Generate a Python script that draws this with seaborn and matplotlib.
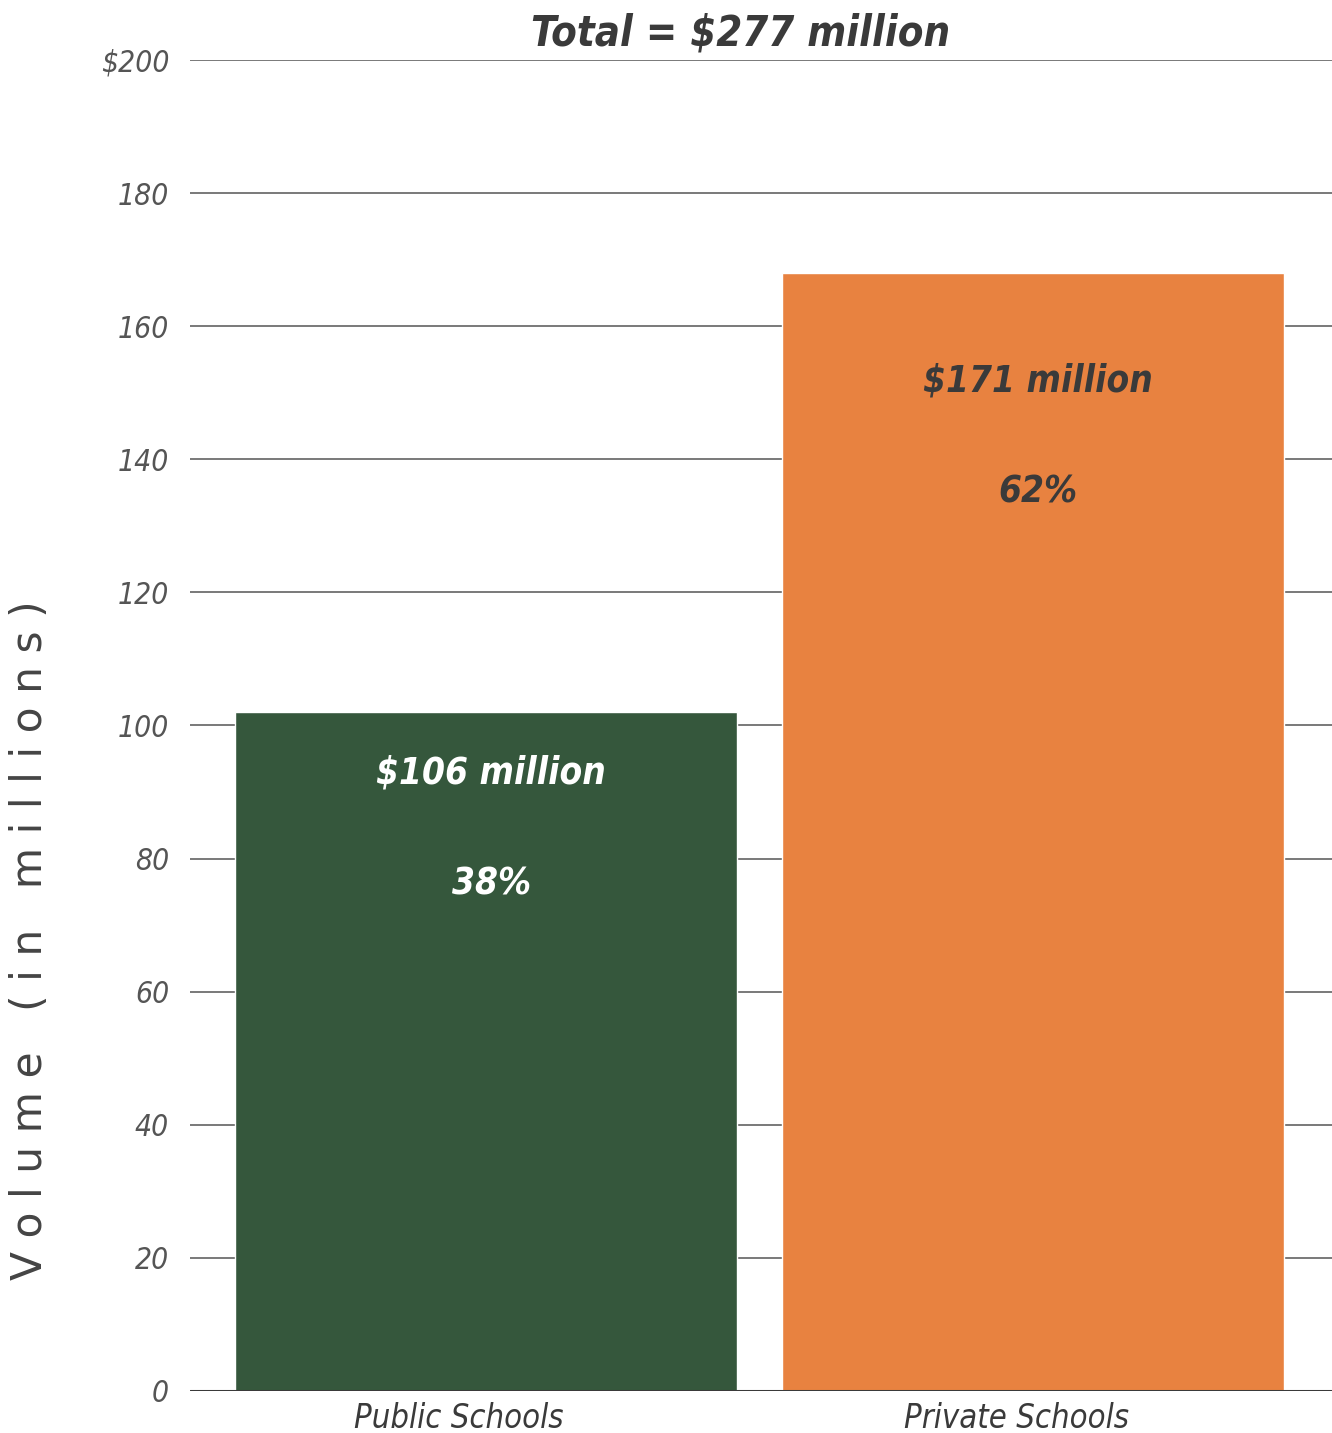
import matplotlib
matplotlib.use("Agg")
import matplotlib.pyplot as plt
import seaborn as sns
import pandas as pd

categories = ["Public Schools", "Private Schools"]
values = [102, 168]
amount_labels = ["$106 million", "$171 million"]
pct_labels = ["38%", "62%"]
title_text = "Total = $277 million"
yticks = [0, 20, 40, 60, 80, 100, 120, 140, 160, 180, 200]
ytick_labels = ["0", "20", "40", "60", "80", "100", "120", "140", "160", "180", "$200"]

# layout constants (label heights in data units)
amount_y = [92.9, 151.8]
pct_y = [76.2, 135.1]

sns.set_theme(style="white")
plt.rcParams["font.family"] = ["DejaVu Sans"]
plt.rcParams["font.stretch"] = "condensed"

df = pd.DataFrame({"cat": categories, "val": values})
colors = ["#35573C", "#E88240"]

fig = plt.figure(figsize=(13.32, 14.33), dpi=100)
ax = fig.add_axes([190/1332, 1 - 1391/1433, 1 - 190/1332, (1391 - 60)/1433])

for y in yticks[1:]:
    ax.axhline(y, color="#555555", lw=1.1, zorder=0)
ax.axhline(0, color="#3a3a3a", lw=2.2, zorder=3)

sns.barplot(data=df, x="cat", y="val", hue="cat", palette=colors, width=0.918,
            saturation=1, legend=False, ax=ax, zorder=2)

ax.set_ylim(0, 200)
ax.set_xlim(-0.541, 1.547)
ax.set_yticks(yticks)
ax.set_yticklabels(ytick_labels, fontsize=21.5, style="italic", color="#555555",
                   stretch="condensed")
ax.set_xticks([0, 1])
ax.set_xticklabels(categories, fontsize=23.5, style="italic", color="#3a3a3a",
                   stretch="condensed")
ax.tick_params(axis="y", length=0, pad=15)
ax.tick_params(axis="x", length=0, pad=8)
for lbl, dx in zip(ax.get_xticklabels(), [-0.05, -0.03]):
    lbl.set_transform(lbl.get_transform() + matplotlib.transforms.ScaledTranslation(dx * 5.47, 0, fig.dpi_scale_trans))
ax.set_xlabel("")
ax.set_ylabel("")
for s in ax.spines.values():
    s.set_visible(False)

txt_colors = ["white", "#3a3a3a"]
for i in range(len(categories)):
    ax.text(i + 0.01, amount_y[i], amount_labels[i], ha="center", va="center", fontsize=26.5,
            style="italic", weight="bold", stretch="condensed", color=txt_colors[i], zorder=4)
    ax.text(i + 0.01, pct_y[i], pct_labels[i], ha="center", va="center", fontsize=26.5,
            style="italic", weight="bold", stretch="condensed", color=txt_colors[i], zorder=4)

fig.text(741/1332, 1 - 33/1433, title_text, ha="center", va="center", fontsize=30,
         style="italic", weight="bold", stretch="condensed", color="#3a3a3a")

ylabel = "   ".join(" ".join(w) for w in ["Volume", "(in", "millions)"])
fig.text(30/1332, 1 - 940/1433, ylabel, rotation=90, ha="center", va="center",
         fontsize=30.5, weight="normal", stretch="normal", color="#444444")

fig.savefig("out.png", dpi=100, facecolor="white")
